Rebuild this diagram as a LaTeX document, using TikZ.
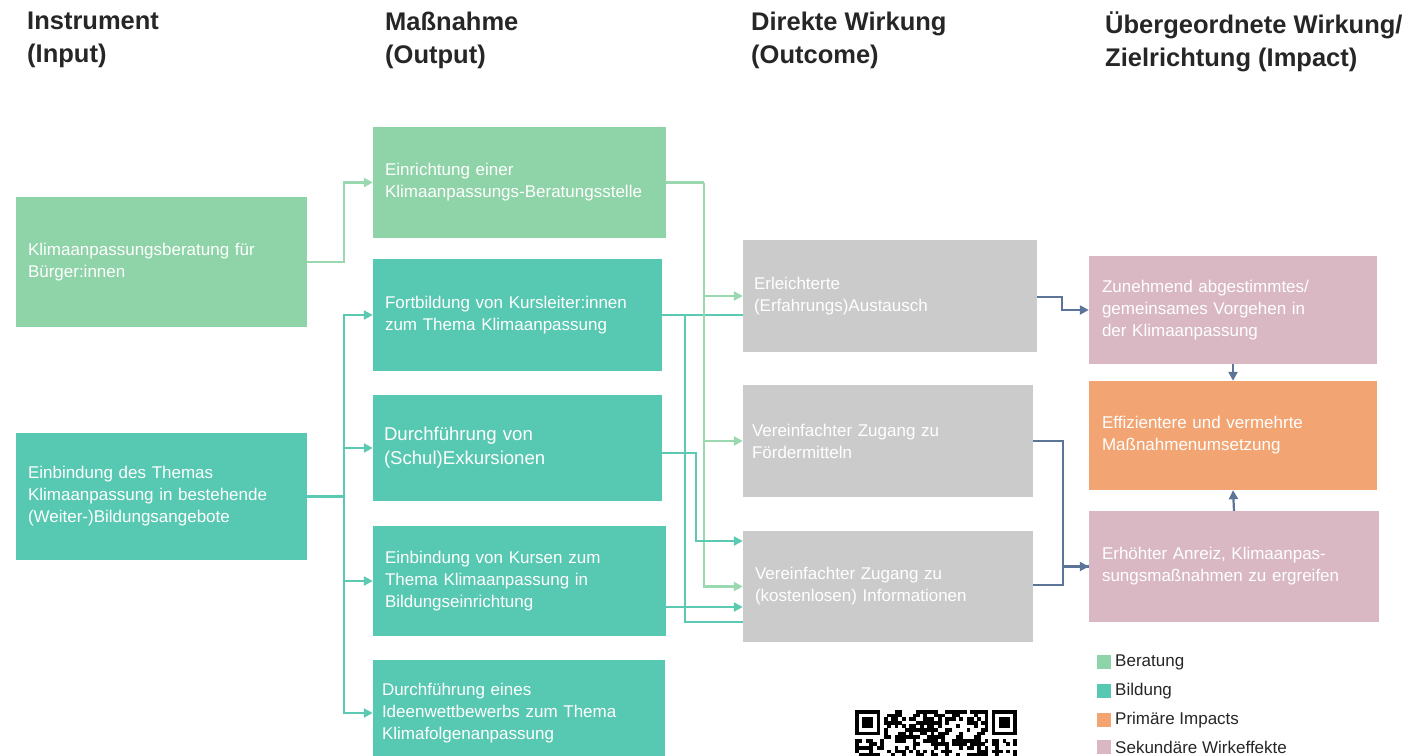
\documentclass[tikz,border=0pt]{standalone}
\usepackage{fontspec}
\setmainfont{Liberation Sans}
\usetikzlibrary{arrows.meta,calc}
\definecolor{cLG}{HTML}{8FD3A8}
\definecolor{cTL}{HTML}{57C8B1}
\definecolor{cGR}{HTML}{CBCBCB}
\definecolor{cPK}{HTML}{D9B8C4}
\definecolor{cOR}{HTML}{F2A472}
\definecolor{cDK}{HTML}{5B7498}
\definecolor{cLGl}{HTML}{9AD8B0}
\definecolor{cTLl}{HTML}{5CCAB2}
\definecolor{cTX}{HTML}{262626}
\newcommand{\boxfont}{\fontsize{17}{22}\selectfont}
\newcommand{\hdfont}{\fontsize{25.5}{33}\selectfont\bfseries}
\begin{document}
\begin{tikzpicture}[x=1pt,y=-1pt,
  boxnode/.style={rectangle, inner xsep=12pt, inner ysep=0pt, align=left, text=white, font=\boxfont},
  head/.style={anchor=north west, align=left, inner sep=0pt, font=\hdfont, text=cTX},
  tip/.style={-{Triangle[length=9pt,width=9pt]}},
  lgl/.style={draw=cLGl, line width=2.2pt},
  tll/.style={draw=cTLl, line width=2.2pt},
  dkl/.style={draw=cDK, line width=2.2pt},
  legsq/.style={rectangle, minimum width=14pt, minimum height=14pt, inner sep=0pt},
  legtx/.style={anchor=west, inner sep=0pt, font=\fontsize{17}{19}\selectfont, text=cTX}
]
\useasboundingbox (0,0) rectangle (1412,755);
\fill[white] (0,0) rectangle (1412,755);
\begin{scope}
\clip (0,0) rectangle (1412,755);
% headers
\node[head] (h1) at (27,12) {Instrument\\(Input)};
\node[head] (h2) at (385,12) {Maßnahme\\(Output)};
\node[head] (h3) at (751,12) {Direkte Wirkung\\(Outcome)};
\node[head] (h4) at (1105,12) {Übergeordnete Wirkung/\\Zielrichtung (Impact)};
% input
\node[boxnode, fill=cLG, minimum width=291pt, minimum height=130pt, text width=267pt] (in1) at (161.5,262) {\mbox{Klimaanpassungsberatung für}\\\mbox{Bürger:innen}};
\node[boxnode, fill=cTL, minimum width=291pt, minimum height=127pt, text width=267pt] (in2) at (161.5,496.5) {\mbox{Einbindung des Themas}\\\mbox{Klimaanpassung in bestehende}\\\mbox{(Weiter-)Bildungsangebote}};
% output
\node[boxnode, fill=cLG, minimum width=293pt, minimum height=111pt, text width=269pt] (o1) at (519.5,182.5) {\mbox{Einrichtung einer}\\\mbox{Klimaanpassungs-Beratungsstelle}};
\node[boxnode, fill=cTL, minimum width=289pt, minimum height=112pt, text width=265pt] (o2) at (517.5,315) {\mbox{Fortbildung von Kursleiter:innen}\\\mbox{zum Thema Klimaanpassung}};
\node[boxnode, fill=cTL, minimum width=289pt, minimum height=106pt, inner xsep=11pt, text width=267pt, font=\fontsize{18.6}{24}\selectfont] (o3) at (517.5,448) {\mbox{Durchführung von}\\\mbox{(Schul)Exkursionen}};
\node[boxnode, fill=cTL, minimum width=293pt, minimum height=110pt, text width=269pt] (o4) at (519.5,581) {\mbox{Einbindung von Kursen zum}\\\mbox{Thema Klimaanpassung in}\\\mbox{Bildungseinrichtung}};
\node[boxnode, fill=cTL, minimum width=292pt, minimum height=106pt, inner xsep=9pt, text width=274pt] (o5) at (519,713) {\mbox{Durchführung eines}\\\mbox{Ideenwettbewerbs zum Thema}\\\mbox{Klimafolgenanpassung}};
% outcome
\node[boxnode, fill=cGR, minimum width=294pt, minimum height=112pt, inner xsep=11pt, text width=272pt] (oc1) at (890,296) {\mbox{Erleichterte}\\\mbox{(Erfahrungs)Austausch}};
\node[boxnode, fill=cGR, minimum width=290pt, minimum height=112pt, inner xsep=9pt, text width=272pt] (oc2) at (888,441) {\mbox{Vereinfachter Zugang zu}\\\mbox{Fördermitteln}};
\node[boxnode, fill=cGR, minimum width=290pt, minimum height=111pt, inner xsep=12pt, text width=266pt] (oc3) at (888,586.5) {\mbox{Vereinfachter Zugang zu}\\\mbox{(kostenlosen) Informationen}};
% impact
\node[boxnode, fill=cPK, minimum width=288pt, minimum height=108pt, inner xsep=13pt, text width=262pt] (im1) at (1233,310) {\mbox{Zunehmend abgestimmtes/}\\\mbox{gemeinsames Vorgehen in}\\\mbox{der Klimaanpassung}};
\node[boxnode, fill=cOR, minimum width=288pt, minimum height=109pt, inner xsep=13pt, text width=262pt] (im2) at (1233,435.5) {\mbox{Effizientere und vermehrte}\\\mbox{Maßnahmenumsetzung}};
\node[boxnode, fill=cPK, minimum width=290pt, minimum height=111pt, inner xsep=13pt, text width=264pt] (im3) at (1234,566.5) {\mbox{Erhöhter Anreiz, Klimaanpas-}\\\mbox{sungsmaßnahmen zu ergreifen}};
% input -> output
\draw[lgl, tip] (in1.east) -- ++(37,0) |- (o1.west);
\draw[tll] (in2.east) -- ++(37,0) coordinate (j1);
\draw[tll, tip] (j1) |- (o2.west);
\draw[tll, tip] (j1) |- (o3.west);
\draw[tll, tip] (j1) |- (o4.west);
\draw[tll, tip] (j1) |- (o5.west);
% output -> outcome
\draw[tll] (o2.east) -- (o2.east -| oc1.west);
\draw[tll] (o2.east) -- ++(23,0) |- ([yshift=-35.5pt]oc3.west);
\draw[lgl] (o1.east) -- ++(38,0) coordinate (k1);
\draw[lgl, tip] (k1) |- (oc1.west);
\draw[lgl, tip] (k1) |- (oc2.west);
\draw[lgl, tip] (k1) |- (oc3.west);
\draw[tll, tip] ([yshift=-5pt]o3.east) -- ++(34,0) |- ([yshift=45.5pt]oc3.west);
\draw[tll, tip] ([yshift=-26pt]o4.east) -- ([yshift=-26pt]o4.east -| oc3.west);
% outcome -> impact
\draw[dkl, tip] ([yshift=-1pt]oc1.east) -- ++(25,0) |- (im1.west);
\draw[dkl, tip] (oc2.east) -- ++(30,0) |- (im3.west);
\draw[dkl] ([yshift=1.5pt]oc3.east) -- ++(30,0) |- (im3.west);
\draw[dkl, tip] (im1.south) -- (im2.north);
\draw[dkl, tip] (im3.north) -- (im2.south);
% legend
\node[legsq, fill=cLG] (l1) at (1104,662) {};
\node[legtx] (lt1) at (1115,662) {Beratung};
\node[legsq, fill=cTL] (l2) at (1104,691) {};
\node[legtx] (lt2) at (1115,691) {Bildung};
\node[legsq, fill=cOR] (l3) at (1104,720) {};
\node[legtx] (lt3) at (1115,720) {Primäre Impacts};
\node[legsq, fill=cPK] (l4) at (1104,747) {};
\node[legtx] (lt4) at (1115,747) {Sekundäre Wirkeffekte};
% QR code (partially visible)
\pgfmathsetseed{42}
\foreach \r in {0,...,12}{
  \foreach \c in {0,...,44}{
    \pgfmathtruncatemacro{\v}{rnd<0.5}
    \pgfmathtruncatemacro{\fz}{and(\r<8, or(\c<8,\c>36))}
    \ifnum\fz=0 \ifnum\v=1
      \fill[black] ({855+\c*3.6},{710+\r*3.6}) rectangle ++(3.7,3.7);
    \fi\fi
  }
}
\foreach \qx in {855,991.8}{
  \fill[black] (\qx,710) rectangle ++(25.2,25.2);
  \fill[white] ({\qx+3.6},713.6) rectangle ++(18,18);
  \fill[black] ({\qx+7.2},717.2) rectangle ++(10.8,10.8);
}
\end{scope}
\end{tikzpicture}
\end{document}
